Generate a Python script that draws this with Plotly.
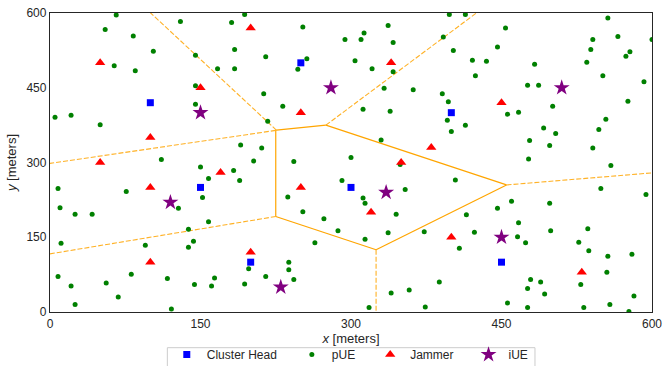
import numpy as np
import plotly.graph_objects as go

# ---------------- data ----------------
ch_x = [100, 250, 400, 150, 300, 200, 450]
ch_y = [420, 500, 400, 250, 250, 100, 100]

jam_x = [50, 150, 200, 100, 250, 340, 50, 100, 170, 250, 350, 380, 320, 400, 200, 100, 450, 530]
jam_y = [500, 450, 570, 350, 400, 500, 300, 250, 280, 250, 300, 330, 200, 150, 120, 100, 420, 80]

iue_x = [280, 150, 510, 335, 120, 450, 230]
iue_y = [450, 400, 450, 240, 220, 150, 50]

pue_x = [66, 130, 181, 194, 55, 83, 103, 145, 184, 64, 85, 167, 184, 145, 145, 5, 21, 50, 190, 111,
         252, 337, 313, 294, 310, 342, 392, 215, 256, 247, 304, 321, 342, 333, 362, 391, 397, 213, 232,
         312, 339, 396, 217, 330, 211, 300, 203, 243, 349,
         398, 414, 556, 454, 566, 541, 600, 402, 446, 539, 578, 574, 421, 435, 483, 535, 424, 551, 476,
         487, 592, 576, 456, 467, 501, 414, 400, 554, 492, 504, 547, 478, 498, 541, 477,
         150, 183, 158, 189, 8, 76, 152, 10, 25, 42, 128, 158, 138, 143, 138, 11, 95, 8, 21, 56, 81,
         117, 68, 25, 121, 144, 164, 161, 194, 198,
         291, 312, 314, 354, 237, 252, 273, 345, 287, 337, 373, 314, 264, 238, 238, 215, 243, 388,
         358, 340, 318, 374,
         559, 404, 549, 594, 460, 446, 498, 415, 467, 423, 499, 536, 466, 474, 527, 408, 537, 556,
         580, 555, 479, 489, 476, 529, 493, 582, 456, 476, 532, 558, 577]
pue_y = [596, 583, 581, 597, 567, 554, 523, 515, 527, 494, 484, 488, 488, 454, 417, 391, 395, 376, 335, 306,
         572, 575, 560, 547, 547, 541, 552, 512, 508, 487, 504, 488, 482, 449, 446, 438, 422, 438, 413,
         407, 403, 385, 383, 345, 329, 310, 303, 302, 296,
         597, 597, 590, 570, 553, 547, 547, 525, 532, 527, 522, 513, 505, 503, 497, 501, 474, 474, 455,
         455, 462, 423, 397, 401, 413, 375, 362, 387, 369, 358, 366, 344, 334, 329, 307,
         291, 284, 268, 264, 248, 242, 230, 209, 196, 196, 208, 181, 166, 142, 130, 138, 134, 71, 52,
         58, 76, 67, 30, 15, 6, 55, 68, 52, 56, 87,
         264, 229, 218, 246, 231, 201, 187, 196, 163, 159, 161, 146, 139, 100, 85, 71, 65, 60,
         44, 38, 9, 10,
         294, 265, 248, 236, 222, 208, 218, 195, 179, 160, 163, 167, 151, 139, 140, 128, 123, 112,
         116, 80, 65, 60, 47, 55, 36, 32, 18, 9, 9, 15, 1]

tick_vals = [0, 150, 300, 450, 600]
legend_names = ["Cluster Head", "pUE", "Jammer", "iUE"]


# ------------- Voronoi ridges of the cluster heads -------------
def voronoi_ridges(px, py):
    pts = np.column_stack([px, py]).astype(float)
    n = len(pts)
    finite, infinite = [], []
    for i in range(n):
        for j in range(i + 1, n):
            pi, pj = pts[i], pts[j]
            m = (pi + pj) / 2.0
            v = pj - pi
            d = np.array([-v[1], v[0]]) / np.linalg.norm(v)
            lo, hi = -np.inf, np.inf
            ok = True
            for k in range(n):
                if k in (i, j):
                    continue
                pk = pts[k]
                a = 2.0 * np.dot(d, pk - pi)
                b = np.dot(pk, pk) - np.dot(pi, pi) - 2.0 * np.dot(m, pk - pi)
                if abs(a) < 1e-12:
                    if b < 0:
                        ok = False
                        break
                elif a > 0:
                    hi = min(hi, b / a)
                else:
                    lo = max(lo, b / a)
            if not ok or hi - lo <= 1e-9:
                continue
            if np.isfinite(lo) and np.isfinite(hi):
                finite.append((m + lo * d, m + hi * d))
            elif np.isfinite(lo):
                infinite.append((m + lo * d, m + 5000 * d))
            elif np.isfinite(hi):
                infinite.append((m + hi * d, m - 5000 * d))
    return finite, infinite


fin, inf = voronoi_ridges(ch_x, ch_y)


def seg_xy(segs):
    xs, ys = [], []
    for a, b in segs:
        xs += [a[0], b[0], None]
        ys += [a[1], b[1], None]
    return xs, ys


fx, fy = seg_xy(fin)
ix, iy = seg_xy(inf)

pad = "\u00a0\u00a0\u00a0"

fig = go.Figure()
fig.add_trace(go.Scatter(x=fx, y=fy, mode="lines", line=dict(color="orange", width=1.2),
                         showlegend=False, hoverinfo="skip"))
fig.add_trace(go.Scatter(x=ix, y=iy, mode="lines",
                         line=dict(color="orange", width=1.1, dash="5px,2px"),
                         opacity=0.85, showlegend=False, hoverinfo="skip"))

fig.add_trace(go.Scatter(x=ch_x, y=ch_y, mode="markers", name=legend_names[0] + pad,
                         marker=dict(symbol="square", size=7, color="#0000ff", line=dict(width=0))))
fig.add_trace(go.Scatter(x=pue_x, y=pue_y, mode="markers", name=legend_names[1] + pad,
                         marker=dict(symbol="circle", size=5, color="#008000", line=dict(width=0))))
fig.add_trace(go.Scatter(x=jam_x, y=jam_y, mode="markers", name=legend_names[2] + pad,
                         marker=dict(symbol="triangle-up", size=9, color="#ff0000", line=dict(width=0))))
fig.add_trace(go.Scatter(x=iue_x, y=iue_y, mode="markers", name=legend_names[3] + pad,
                         marker=dict(symbol="star", size=12, color="#800080", line=dict(width=0))))

font_family = "Liberation Sans, Arial, sans-serif"
axis_common = dict(
    range=[0, 600], tickvals=tick_vals, ticktext=[str(v) for v in tick_vals],
    showgrid=False, zeroline=False, showline=True, mirror=True,
    linecolor="#262626", linewidth=1.3, ticks="",
    tickfont=dict(family=font_family, size=12, color="#262626"),
)

fig.update_layout(
    width=664, height=366,
    margin=dict(l=50, r=12, t=13, b=54, autoexpand=False),
    plot_bgcolor="white", paper_bgcolor="white",
    font=dict(family=font_family, size=12, color="#262626"),
    xaxis=dict(**axis_common,
               title=dict(text="<i>x</i> [meters]", font=dict(family=font_family, size=13, color="#262626"),
                          standoff=0)),
    yaxis=dict(**axis_common,
               title=dict(text="<i>y</i> [meters]", font=dict(family=font_family, size=13, color="#262626"),
                          standoff=6)),
    legend=dict(orientation="h", x=0.194, y=-0.094, xanchor="left", yanchor="top",
                borderwidth=0, bgcolor="rgba(0,0,0,0)",
                font=dict(family=font_family, size=12, color="#262626")),
    shapes=[dict(type="rect", xref="paper", yref="paper",
                 x0=0.1949, x1=0.8056, y0=-0.1194, y1=-0.25,
                 line=dict(color="#cccccc", width=1), fillcolor="rgba(0,0,0,0)", layer="above")],
)

fig.write_html("out.html")
